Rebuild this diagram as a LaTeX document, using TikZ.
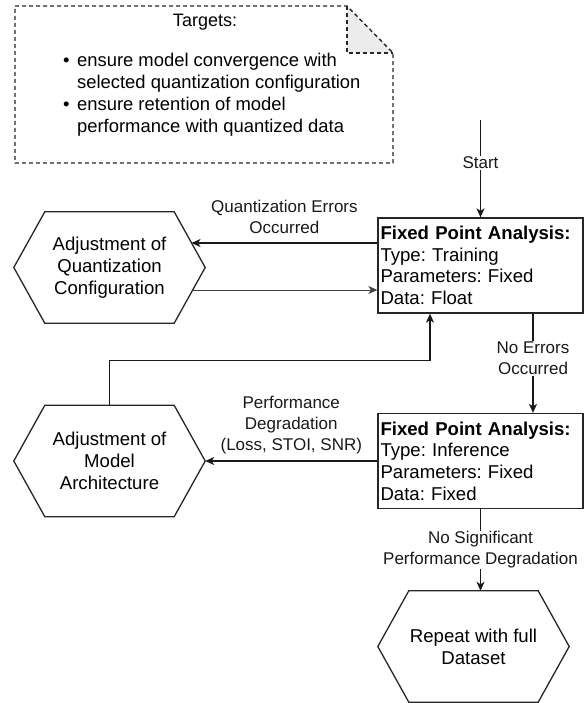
\documentclass[tikz,border=0pt]{standalone}
\usepackage{fontspec}
\setmainfont{Liberation Sans}
\usetikzlibrary{arrows.meta,calc}
\frenchspacing
\newcommand\hexshape[1]{\draw[line width=1.3pt,black!85] (#1.west) -- ([xshift=31pt]#1.north west) -- ([xshift=-31pt]#1.north east) -- (#1.east) -- ([xshift=-31pt]#1.south east) -- ([xshift=31pt]#1.south west) -- cycle;}
\begin{document}
\begin{tikzpicture}[x=1pt,y=-1pt,
  hexbox/.style={minimum width=191pt,minimum height=111pt,inner sep=0pt,align=center,font=\fontsize{18.6}{22}\selectfont},
  fpabox/.style={draw=black!85,line width=1.3pt,minimum width=205pt,minimum height=95pt,text width=200pt,inner sep=2pt,align=left,font=\fontsize{18.6}{21.7}\selectfont\frenchspacing},
  elabel/.style={fill=white,inner sep=1pt,align=center,font=\fontsize{17}{21}\selectfont},
  conn/.style={line width=1.3pt,black!90,-{Stealth[length=9pt,width=8pt,inset=2.5pt]}},
  notedash/.style={line width=1.4pt,black!85,dash pattern=on 4pt off 3pt},
]
\useasboundingbox (0,0) rectangle (585,703);

% note
\fill[gray!15] (347,6) -- (347,53) -- (393,53) -- cycle;
\draw[notedash] (15,6) -- (347,6) -- (393,53) -- (393,163) -- (15,163) -- cycle;
\draw[notedash] (347,6) -- (347,53) -- (393,53);
\node[font=\fontsize{18}{22}\selectfont,inner sep=0pt] (tg) at (205,22) {Targets:};
\node[anchor=west,inner sep=0pt,font=\fontsize{18.4}{22}\selectfont] (tl) at (63,95)
  {\begin{tabular}{@{}l@{\hspace{7.5pt}}l@{}}
   \textbullet & ensure model convergence with\\
               & selected quantization configuration\\
   \textbullet & ensure retention of model\\
               & performance with quantized data
   \end{tabular}};

% nodes
\node[fpabox] (fpa1) at (480.5,265.5) {\textbf{Fixed Point Analysis:}\\Type: Training\\Parameters: Fixed\\Data: Float};
\node[fpabox] (fpa2) at (480.5,461) {\textbf{Fixed Point Analysis:}\\Type: Inference\\Parameters: Fixed\\Data: Fixed};
\node[hexbox] (hq) at (109.5,267.5) {Adjustment of\\Quantization\\Configuration};
\node[hexbox] (hm) at (109.5,461) {Adjustment of\\Model\\Architecture};
\node[hexbox] (hr) at (473.5,646.5) {Repeat with full\\Dataset};
\hexshape{hq}
\hexshape{hm}
\hexshape{hr}

% connectors
\coordinate (start) at (480.5,120);
\draw[conn] (start) -- node[elabel,pos=0.44]{Start} (fpa1.north);

\coordinate (qa) at ($(fpa1.west)+(0,-22.5)$);
\coordinate (qb) at ($(qa -| hq.east)+(-13.7,0)$);
\draw[conn,line width=2pt] (qa) -- node[midway,above=8pt,align=center,font=\fontsize{17}{21}\selectfont,inner sep=0pt]{Quantization Errors\\Occurred} (qb);

\coordinate (qc) at ($(hq.east)+(-12.6,22.5)$);
\draw[conn,line width=1pt,black!75] (qc) -- (qc -| fpa1.west);

\coordinate (ne1) at ($(fpa1.south)+(52.5,0)$);
\draw[conn] (ne1) -- node[elabel,pos=0.45]{No Errors\\Occurred} (ne1 |- fpa2.north);

\coordinate (lp) at ($(fpa1.south)+(-50.5,0)$);
\draw[conn] (hm.north) -- ++(0,-45) -| (lp);

\draw[conn] (fpa2.west) -- node[midway,above=6pt,align=center,font=\fontsize{17}{21}\selectfont,inner sep=0pt]{Performance\\Degradation\\(Loss, STOI, SNR)} (hm.east);

\draw[conn] (fpa2.south) -- node[elabel,pos=0.5]{No Significant\\Performance Degradation} (fpa2.south |- hr.north);
\end{tikzpicture}
\end{document}
